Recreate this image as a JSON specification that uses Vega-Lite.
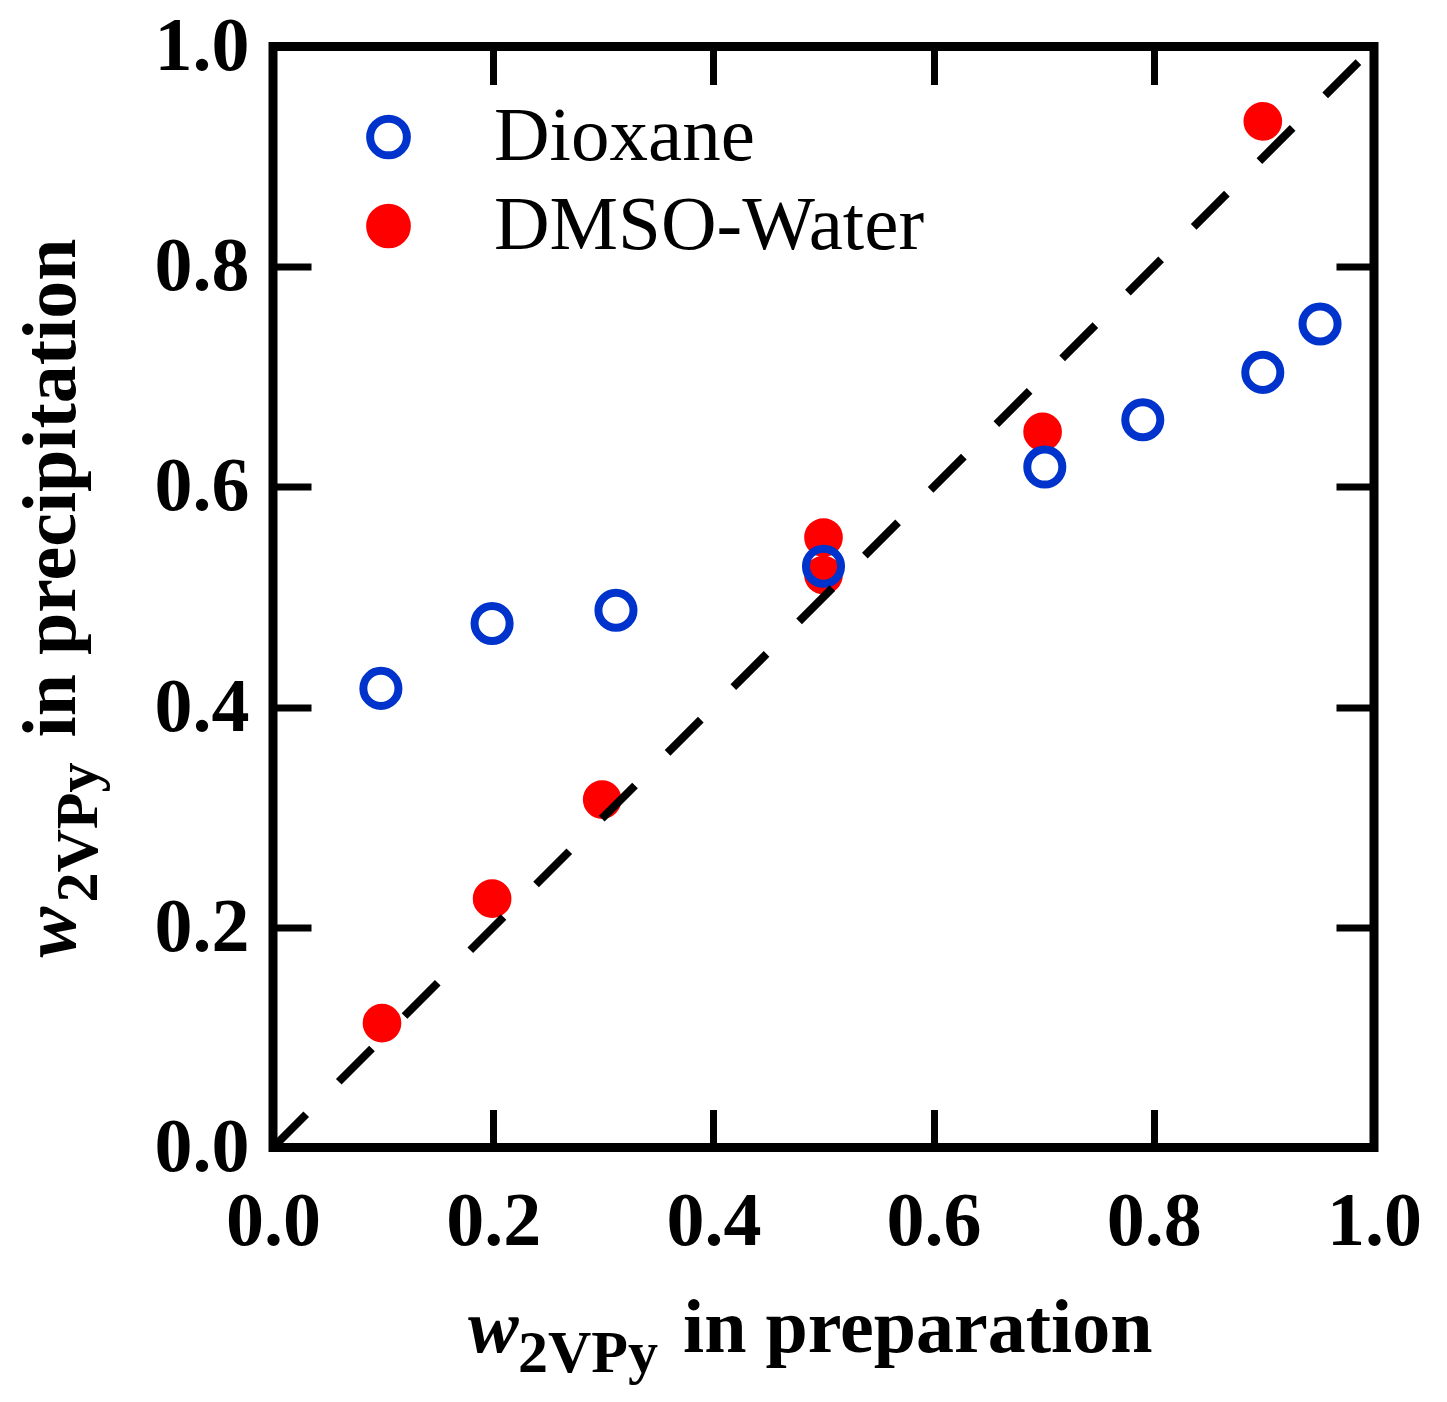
{
  "$schema": "https://vega.github.io/schema/vega-lite/v6.json",
  "width": 1101,
  "height": 1101,
  "autosize": {"type": "none"},
  "padding": {"left": 273, "top": 46.5, "right": 73, "bottom": 254.5},
  "background": "white",
  "data": {"values": [{}]},
  "datasets": {
    "points": [
      {"series": "DMSO-Water", "prep": 0.099, "precip": 0.113},
      {"series": "DMSO-Water", "prep": 0.199, "precip": 0.226},
      {"series": "DMSO-Water", "prep": 0.299, "precip": 0.316},
      {"series": "DMSO-Water", "prep": 0.5, "precip": 0.554},
      {"series": "DMSO-Water", "prep": 0.5, "precip": 0.52},
      {"series": "DMSO-Water", "prep": 0.699, "precip": 0.65},
      {"series": "DMSO-Water", "prep": 0.899, "precip": 0.932},
      {"series": "Dioxane", "prep": 0.098, "precip": 0.417},
      {"series": "Dioxane", "prep": 0.199, "precip": 0.476},
      {"series": "Dioxane", "prep": 0.3115, "precip": 0.488},
      {"series": "Dioxane", "prep": 0.5, "precip": 0.528},
      {"series": "Dioxane", "prep": 0.701, "precip": 0.618},
      {"series": "Dioxane", "prep": 0.79, "precip": 0.661},
      {"series": "Dioxane", "prep": 0.899, "precip": 0.704},
      {"series": "Dioxane", "prep": 0.951, "precip": 0.748}
    ],
    "diag": [
      {"prep": 0, "precip": 0},
      {"prep": 1, "precip": 1}
    ]
  },
  "layer": [
    {
      "data": {"name": "points"},
      "mark": {"type": "point", "shape": "circle", "strokeWidth": 8, "opacity": 1},
      "encoding": {
        "x": {
          "field": "prep",
          "type": "quantitative",
          "scale": {"domain": [0, 1], "nice": false, "zero": false},
          "axis": {"orient": "bottom", "title": null, "values": [0, 0.2, 0.4, 0.6, 0.8, 1], "format": ".1f"}
        },
        "y": {
          "field": "precip",
          "type": "quantitative",
          "scale": {"domain": [0, 1], "nice": false, "zero": false},
          "axis": {"orient": "left", "title": null, "values": [0, 0.2, 0.4, 0.6, 0.8, 1], "format": ".1f"}
        },
        "stroke": {
          "field": "series",
          "type": "nominal",
          "scale": {"domain": ["Dioxane", "DMSO-Water"], "range": ["#0033CC", "#FF0000"]},
          "legend": {"title": null}
        },
        "fill": {
          "field": "series",
          "type": "nominal",
          "scale": {"domain": ["Dioxane", "DMSO-Water"], "range": ["transparent", "#FF0000"]},
          "legend": {"title": null}
        },
        "size": {
          "condition": {"test": "datum.series === 'Dioxane'", "value": 1230},
          "value": 940
        }
      }
    },
    {
      "data": {"name": "diag"},
      "mark": {"type": "line", "color": "black", "strokeWidth": 8, "strokeDash": [47, 46], "strokeCap": "butt"},
      "encoding": {
        "x": {
          "field": "prep",
          "type": "quantitative",
          "axis": {"orient": "top", "title": null, "labels": false, "values": [0, 0.2, 0.4, 0.6, 0.8, 1]}
        },
        "y": {
          "field": "precip",
          "type": "quantitative",
          "axis": {"orient": "right", "title": null, "labels": false, "values": [0, 0.2, 0.4, 0.6, 0.8, 1]}
        }
      }
    },
    {
      "mark": {"type": "text", "text": "w", "font": "Liberation Serif", "fontSize": 76, "fontStyle": "italic", "fontWeight": "bold", "align": "left", "baseline": "alphabetic", "color": "black"},
      "encoding": {
        "x": {"datum": 0.177, "type": "quantitative", "axis": null},
        "y": {"datum": -0.1853, "type": "quantitative", "axis": null}
      }
    },
    {
      "mark": {"type": "text", "text": "2VPy", "font": "Liberation Serif", "fontSize": 60, "fontWeight": "bold", "align": "left", "baseline": "alphabetic", "color": "black"},
      "encoding": {
        "x": {"datum": 0.2225, "type": "quantitative", "axis": null},
        "y": {"datum": -0.2035, "type": "quantitative", "axis": null}
      }
    },
    {
      "mark": {"type": "text", "text": "in preparation", "font": "Liberation Serif", "fontSize": 76, "fontWeight": "bold", "align": "left", "baseline": "alphabetic", "color": "black"},
      "encoding": {
        "x": {"datum": 0.3724, "type": "quantitative", "axis": null},
        "y": {"datum": -0.1853, "type": "quantitative", "axis": null}
      }
    },
    {
      "mark": {"type": "text", "text": "w", "font": "Liberation Serif", "fontSize": 76, "fontStyle": "italic", "fontWeight": "bold", "align": "left", "baseline": "alphabetic", "angle": 270, "color": "black"},
      "encoding": {
        "x": {"datum": -0.1798, "type": "quantitative", "axis": null},
        "y": {"datum": 0.1726, "type": "quantitative", "axis": null}
      }
    },
    {
      "mark": {"type": "text", "text": "2VPy", "font": "Liberation Serif", "fontSize": 60, "fontWeight": "bold", "align": "left", "baseline": "alphabetic", "angle": 270, "color": "black"},
      "encoding": {
        "x": {"datum": -0.1599, "type": "quantitative", "axis": null},
        "y": {"datum": 0.2225, "type": "quantitative", "axis": null}
      }
    },
    {
      "mark": {"type": "text", "text": "in precipitation", "font": "Liberation Serif", "fontSize": 76, "fontWeight": "bold", "align": "left", "baseline": "alphabetic", "angle": 270, "color": "black"},
      "encoding": {
        "x": {"datum": -0.1798, "type": "quantitative", "axis": null},
        "y": {"datum": 0.3724, "type": "quantitative", "axis": null}
      }
    }
  ],
  "resolve": {"axis": {"x": "independent", "y": "independent"}},
  "config": {
    "view": {"stroke": "black", "strokeWidth": 9},
    "font": "Liberation Serif",
    "axis": {
      "domain": false,
      "grid": false,
      "ticks": true,
      "tickSize": -38,
      "tickWidth": 7,
      "tickColor": "black",
      "labelFont": "Liberation Serif",
      "labelFontSize": 76,
      "labelFontWeight": "bold",
      "labelColor": "black",
      "labelFlush": false,
      "labelOverlap": false
    },
    "axisX": {"labelPadding": 75},
    "axisY": {"labelPadding": 62},
    "legend": {
      "orient": "none",
      "legendX": 77,
      "legendY": 52,
      "padding": 0,
      "labelFont": "Liberation Serif",
      "labelFontSize": 77,
      "labelFontWeight": "normal",
      "labelColor": "black",
      "labelOffset": 67,
      "labelLimit": 0,
      "rowPadding": 11,
      "symbolSize": 1350,
      "symbolStrokeWidth": 8
    }
  }
}
